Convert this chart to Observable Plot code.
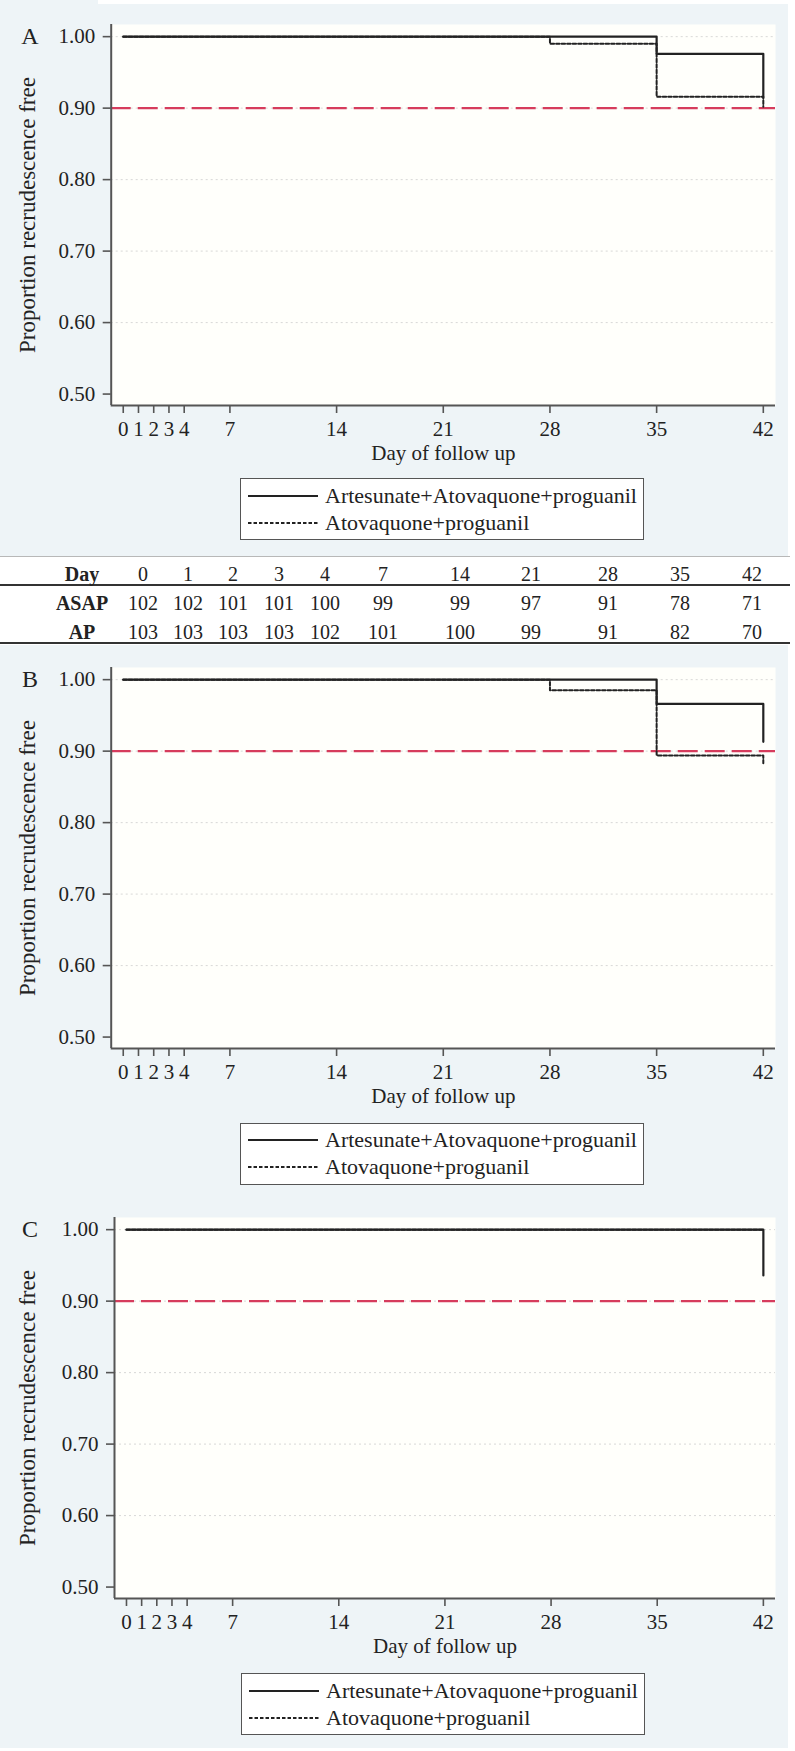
<!DOCTYPE html>
<html>
<head>
<meta charset="utf-8">
<script src="https://cdn.jsdelivr.net/npm/d3@7"></script>
<script src="https://cdn.jsdelivr.net/npm/@observablehq/plot@0.6"></script>
<style>
  html, body { margin: 0; padding: 0; background: #ffffff; }
  body { font-family: "Liberation Serif", "Times New Roman", serif; color: #222; }
  #page { position: relative; width: 795px; height: 1751px; overflow: hidden; background: #ffffff; }
  .abs { position: absolute; }
  .legend { position: absolute; background: #ffffff; border: 1.5px solid #555; box-sizing: border-box; }
  .legend .row { position: absolute; left: 0; display: flex; align-items: center; font-size: 22px; white-space: nowrap; }
  .cell { position: absolute; transform: translate(-50%, -50%); font-size: 20px; white-space: nowrap; line-height: 1; }
  .cell.head { font-weight: bold; }
</style>
</head>
<body>
<div id="page">
  <div class="abs" style="left:0;top:0;width:788px;height:1748px;background:#eef4f7"></div>
  <div class="abs" style="left:98px;top:0;width:692px;height:4px;background:#ffffff"></div>
  <div id="panelA" class="abs" style="left:0;top:4px"></div>
  <div id="panelB" class="abs" style="left:0;top:646.7px"></div>
  <div id="panelC" class="abs" style="left:0;top:1196.7px"></div>
  <div id="table" class="abs" style="left:0;top:556px;width:790px;height:89px;background:#ffffff"></div>
</div>
<script>
// ---------------- data ----------------
const xTickDays = [0, 1, 2, 3, 4, 7, 14, 21, 28, 35, 42];
const yTickValues = [0.5, 0.6, 0.7, 0.8, 0.9, 1.0];
const gridValues = [0.6, 0.7, 0.8, 0.9, 1.0];
const targetLevel = [0.9];
const seriesNames = ["Artesunate+Atovaquone+proguanil", "Atovaquone+proguanil"];
const panelLabels = ["A", "B", "C"];
const yTitle = "Proportion recrudescence free";
const xTitle = "Day of follow up";

// Panel A
const aDaysASAP = [0, 35, 42];
const aSurvASAP = [1.0, 0.976, 0.915];
const aDaysAP = [0, 28, 35, 42];
const aSurvAP = [1.0, 0.990, 0.916, 0.902];
// Panel B
const bDaysASAP = [0, 35, 42];
const bSurvASAP = [1.0, 0.966, 0.913];
const bDaysAP = [0, 28, 35, 42];
const bSurvAP = [1.0, 0.985, 0.894, 0.883];
// Panel C
const cDaysASAP = [0, 42];
const cSurvASAP = [1.0, 0.936];
const cDaysAP = [0, 42];
const cSurvAP = [1.0, 1.0];

// Number at risk table
const tableRowLabels = ["Day", "ASAP", "AP"];
const tableDays = [0, 1, 2, 3, 4, 7, 14, 21, 28, 35, 42];
const atRiskASAP = [102, 102, 101, 101, 100, 99, 99, 97, 91, 78, 71];
const atRiskAP = [103, 103, 103, 103, 102, 101, 100, 99, 91, 82, 70];

// ---------------- layout (not data) ----------------
const xDomain = [-0.79, 42.8];
const yDomain = [0.484, 1.017];
const tableColX = [82, 143, 188, 233, 279, 325, 383, 460, 531, 608, 680, 752];
const tableRowY = [18, 47.3, 75.7];

const FONT = "'Liberation Serif', 'Times New Roman', serif";
const RED = "#d63c5c";
const AXIS = "#555";

function toRows(days, surv) { return days.map((d, i) => ({day: d, s: surv[i]})); }

function panel(label, asap, ap, marginLeft) {
  return Plot.plot({
    width: 795,
    height: 466,
    marginTop: 20,
    marginBottom: 65,
    marginLeft: marginLeft,
    marginRight: 20,
    style: {background: "transparent", fontFamily: FONT, fontSize: "21px", color: "#222", overflow: "visible"},
    x: {domain: xDomain},
    y: {domain: yDomain},
    marks: [
      Plot.frame({fill: "#fffffb", stroke: "none"}),
      Plot.gridY(gridValues, {stroke: "#c8c8c8", strokeOpacity: 0.7, strokeDasharray: "2,3"}),
      Plot.ruleY(targetLevel, {stroke: RED, strokeWidth: 2.2, strokeDasharray: "20,7"}),
      Plot.line(ap, {x: "day", y: "s", curve: "step-after", stroke: "#222", strokeWidth: 2, strokeDasharray: "3.5,2"}),
      Plot.line(asap, {x: "day", y: "s", curve: "step-after", stroke: "#222", strokeWidth: 2.2}),
      Plot.axisX(xTickDays, {tickSize: 8, tickPadding: 8, stroke: AXIS, strokeWidth: 1.6, fill: "#222", fontSize: 21, label: null}),
      Plot.axisY(yTickValues, {tickSize: 8, tickPadding: 8, stroke: AXIS, strokeWidth: 1.6, fill: "#222", fontSize: 21, tickFormat: d3.format(".2f"), label: null}),
      Plot.ruleX([xDomain[0]], {stroke: AXIS, strokeWidth: 2}),
      Plot.ruleY([yDomain[0]], {stroke: AXIS, strokeWidth: 2}),
      Plot.text([yTitle], {text: d => d, frameAnchor: "left", dx: -(marginLeft - 26.7), rotate: -90, fontSize: 23, fill: "#222", textAnchor: "middle", lineAnchor: "middle"}),
      Plot.text([xTitle], {text: d => d, frameAnchor: "bottom", dy: 48, fontSize: 21, fill: "#222", lineAnchor: "middle"}),
      Plot.text([label], {text: d => d, frameAnchor: "top-left", dx: -(marginLeft - 29.5), dy: 12, fontSize: 24, fill: "#222", textAnchor: "middle", lineAnchor: "middle"})
    ]
  });
}

document.getElementById("panelA").appendChild(panel(panelLabels[0], toRows(aDaysASAP, aSurvASAP), toRows(aDaysAP, aSurvAP), 110.7));
document.getElementById("panelB").appendChild(panel(panelLabels[1], toRows(bDaysASAP, bSurvASAP), toRows(bDaysAP, bSurvAP), 110.7));
document.getElementById("panelC").appendChild(panel(panelLabels[2], toRows(cDaysASAP, cSurvASAP), toRows(cDaysAP, cSurvAP), 114));

// ---------------- legends ----------------
function legend(top, left) {
  const box = document.createElement("div");
  box.className = "legend";
  box.style.top = top + "px";
  box.style.left = left + "px";
  box.style.width = "404px";
  box.style.height = "62px";
  const rowsY = [16.7, 43.4];
  seriesNames.forEach((name, i) => {
    const row = document.createElement("div");
    row.className = "row";
    row.style.top = (rowsY[i] - 14) + "px";
    row.style.height = "28px";
    const svg = `<svg width="84" height="28" style="display:block"><line x1="7" x2="77" y1="14" y2="14" stroke="#222" stroke-width="${i === 0 ? 2.2 : 2}" ${i === 1 ? 'stroke-dasharray="3.5,2"' : ''}/></svg>`;
    row.innerHTML = svg + `<span style="line-height:28px">${name}</span>`;
    box.appendChild(row);
  });
  document.getElementById("page").appendChild(box);
}
legend(478.3, 240);
legend(1122.7, 240);
legend(1673.3, 241);

// ---------------- at-risk table ----------------
const table = document.getElementById("table");
function line(y, h, color) {
  const d = document.createElement("div");
  d.className = "abs";
  d.style.left = "0px"; d.style.width = "790px";
  d.style.top = y + "px"; d.style.height = h + "px"; d.style.background = color;
  table.appendChild(d);
}
line(0, 1, "#b8b8b8");
line(28, 2, "#333");
line(85.5, 2.5, "#333");
const rows = [tableDays, atRiskASAP, atRiskAP];
rows.forEach((vals, r) => {
  const lab = document.createElement("div");
  lab.className = "cell head";
  lab.style.left = tableColX[0] + "px";
  lab.style.top = tableRowY[r] + "px";
  lab.textContent = tableRowLabels[r];
  table.appendChild(lab);
  vals.forEach((v, j) => {
    const c = document.createElement("div");
    c.className = "cell";
    c.style.left = tableColX[j + 1] + "px";
    c.style.top = tableRowY[r] + "px";
    c.textContent = v;
    table.appendChild(c);
  });
});
</script>
</body>
</html>
